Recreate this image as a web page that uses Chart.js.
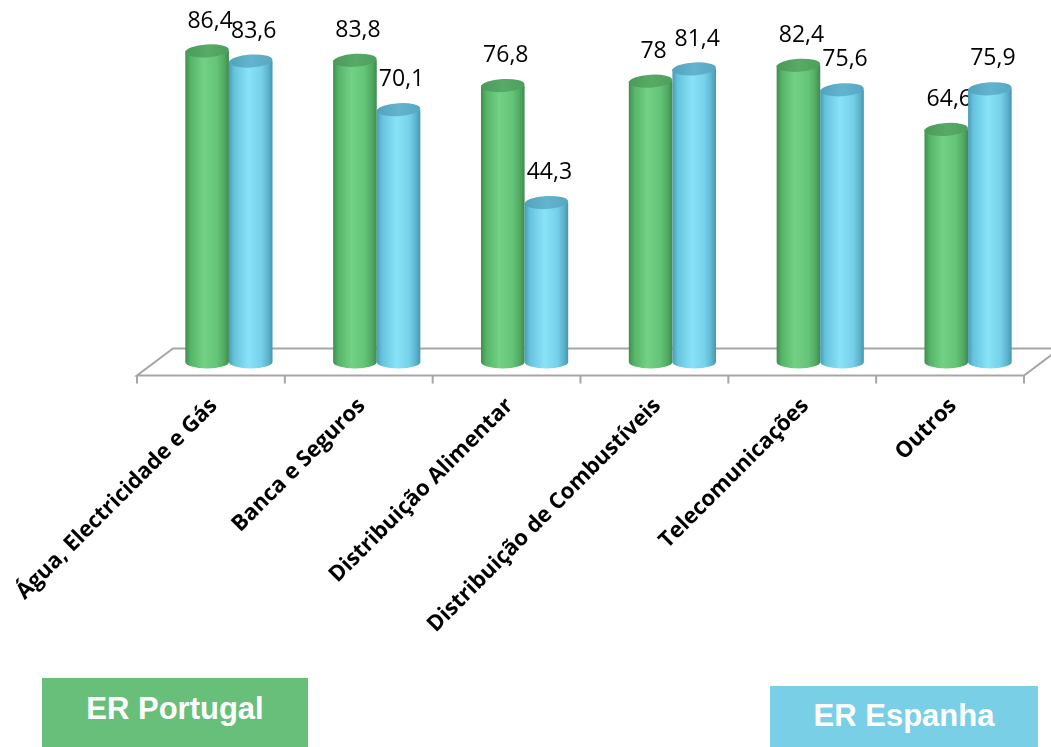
<!DOCTYPE html>
<html>
<head>
<meta charset="utf-8">
<script src="https://cdn.jsdelivr.net/npm/chart.js@4.4.1/dist/chart.umd.min.js"></script>
<style>
  html, body { margin: 0; padding: 0; background: #ffffff; }
  #wrap { position: relative; width: 1051px; height: 747px; overflow: hidden; }
  canvas { position: absolute; left: 0; top: 0; }
  .lg { position: absolute; color: #ffffff; font-family: "Liberation Sans", Arial, sans-serif; font-weight: bold; font-size: 31px; display: flex; align-items: center; justify-content: center; }
</style>
</head>
<body>
<div id="wrap">
  <canvas id="c" width="1051" height="747"></canvas>
  <div class="lg" style="left:42px; top:678px; width:266px; height:69px; background:#67bf7a; padding-bottom:8px; box-sizing:border-box;">ER Portugal</div>
  <div class="lg" style="left:770px; top:686px; width:268px; height:61px; background:#78cfe6; padding-bottom:2px; box-sizing:border-box;">ER Espanha</div>
</div>
<script>
const categories = ['Água, Electricidade e Gás', 'Banca e Seguros', 'Distribuição Alimentar', 'Distribuição de Combustíveis', 'Telecomunicações', 'Outros'];
const seriesNames = ['ER Portugal', 'ER Espanha'];
const portugal = [86.4, 83.8, 76.8, 78, 82.4, 64.6];
const espanha = [83.6, 70.1, 44.3, 81.4, 75.6, 75.9];

const bodyStops = [
  [[0, '#3f8d4f'], [0.12, '#56b468'], [0.42, '#72d185'], [0.72, '#64c477'], [0.9, '#50a862'], [1, '#3e8a4d']],
  [[0, '#4a9bb6'], [0.12, '#66c3dd'], [0.45, '#88e3f8'], [0.75, '#76d0e9'], [0.9, '#5db3cd'], [1, '#4896b0']]
];
const topStops = [
  [[0, '#4a9a59'], [0.5, '#58aa67'], [1, '#4e9f5d']],
  [[0, '#52a2bd'], [0.5, '#62b4cf'], [1, '#56a7c2']]
];

function fmt(v) { return String(v).replace('.', ','); }

const floorPlugin = {
  id: 'floor3d',
  beforeDatasetsDraw(chart) {
    const ctx = chart.ctx, ca = chart.chartArea, xs = chart.scales.x;
    const step = xs.getPixelForValue(1) - xs.getPixelForValue(0);
    const dx = 18, dy = 13.5;
    const fy = ca.bottom + dy, by = ca.bottom - dy;
    const L = xs.getPixelForValue(0) - step / 2, R = xs.getPixelForValue(categories.length - 1) + step / 2;
    ctx.save();
    ctx.strokeStyle = '#a6a6a6';
    ctx.lineWidth = 2;
    ctx.beginPath();
    ctx.moveTo(R + dx, by);
    ctx.lineTo(L + dx, by);
    ctx.lineTo(L - dx, fy);
    ctx.lineTo(R - dx, fy);
    ctx.lineTo(R + dx, by);
    ctx.stroke();
    ctx.beginPath();
    for (let i = 0; i <= categories.length; i++) {
      const tx = L - dx + i * step;
      ctx.moveTo(tx, fy);
      ctx.lineTo(tx, fy + 8);
    }
    ctx.stroke();
    ctx.restore();
  },
  afterDatasetsDraw(chart) {
    const ctx = chart.ctx;
    const ry = 6.5;
    chart.data.datasets.forEach((ds, di) => {
      const meta = chart.getDatasetMeta(di);
      meta.data.forEach((el, i) => {
        const p = el.getProps(['x', 'y', 'base', 'width'], true);
        const w = p.width, x0 = p.x - w / 2, x1 = p.x + w / 2, rx = w / 2;
        ctx.save();
        const g = ctx.createLinearGradient(x0, 0, x1, 0);
        bodyStops[di].forEach(s => g.addColorStop(s[0], s[1]));
        ctx.fillStyle = g;
        ctx.beginPath();
        ctx.moveTo(x0, p.y);
        ctx.lineTo(x0, p.base);
        ctx.ellipse(p.x, p.base, rx, ry, 0, Math.PI, 0, true);
        ctx.lineTo(x1, p.y);
        ctx.closePath();
        ctx.fill();
        const tg = ctx.createLinearGradient(x0, 0, x1, 0);
        topStops[di].forEach(s => tg.addColorStop(s[0], s[1]));
        ctx.fillStyle = tg;
        ctx.beginPath();
        ctx.ellipse(p.x, p.y, rx, ry, -0.06, 0, Math.PI * 2);
        ctx.fill();
        ctx.fillStyle = '#000000';
        ctx.font = '23px "Open Sans", sans-serif';
        ctx.textAlign = 'center';
        ctx.textBaseline = 'middle';
        ctx.fillText(fmt(ds.data[i]), p.x + 3, p.y - 30);
        ctx.restore();
      });
    });
  }
};

new Chart(document.getElementById('c'), {
  type: 'bar',
  data: {
    labels: categories,
    datasets: [
      { label: seriesNames[0], data: portugal, backgroundColor: 'rgba(0,0,0,0)', categoryPercentage: 0.59, barPercentage: 1 },
      { label: seriesNames[1], data: espanha, backgroundColor: 'rgba(0,0,0,0)', categoryPercentage: 0.59, barPercentage: 1 }
    ]
  },
  options: {
    responsive: false,
    animation: false,
    devicePixelRatio: 1,
    layout: { padding: { left: 155, right: 9, top: 2, bottom: 0 } },
    plugins: { legend: { display: false }, tooltip: { enabled: false } },
    scales: {
      y: { display: false, min: 0, max: 100 },
      x: {
        grid: { display: false, drawTicks: false },
        border: { display: false },
        ticks: {
          autoSkip: false,
          minRotation: 45,
          maxRotation: 45,
          labelOffset: -15,
          padding: 31,
          color: '#000000',
          font: { family: '"Open Sans", sans-serif', weight: 'bold', size: 22 }
        },
        afterFit(s) { s.height = 385; s.paddingLeft = 0; s.paddingRight = 0; }
      }
    }
  },
  plugins: [floorPlugin]
});
</script>
</body>
</html>
